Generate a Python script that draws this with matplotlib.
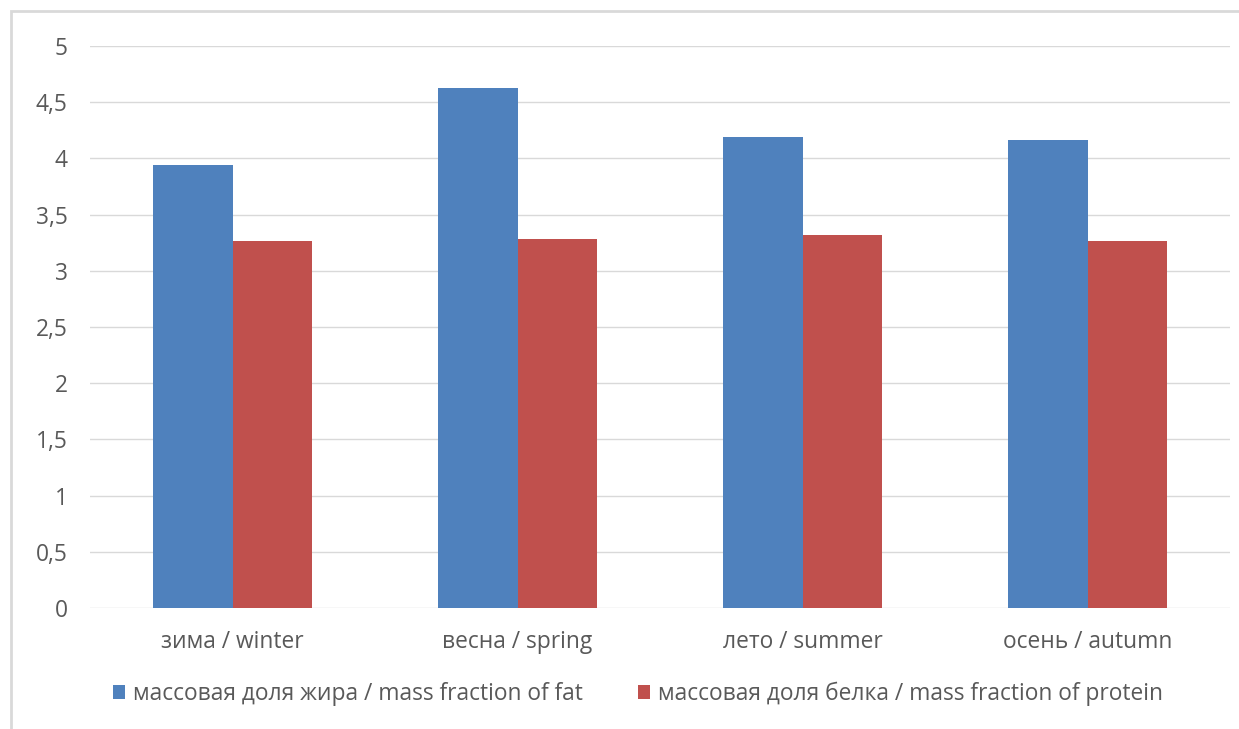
import numpy as np
import matplotlib.pyplot as plt
from matplotlib.patches import Rectangle
from matplotlib.ticker import FuncFormatter

# Seasonal milk composition
seasons = ['зима / winter', 'весна / spring', 'лето / summer', 'осень / autumn']
fat = [3.94, 4.63, 4.19, 4.16]
protein = [3.265, 3.28, 3.32, 3.265]
fat_label = 'массовая доля жира / mass fraction of fat'
protein_label = 'массовая доля белка / mass fraction of protein'
y_ticks = np.arange(0, 5.01, 0.5)

plt.rcParams['font.family'] = ['Open Sans', 'DejaVu Sans']
text_color = '#595959'
fs = 16.4

fig = plt.figure(figsize=(12.39, 7.29), dpi=100)
# light outer chart frame
fig.patches.append(Rectangle((11 / 1239, -0.1), 1.2, 1 - 11 / 729 + 0.1,
                             transform=fig.transFigure, fill=False,
                             edgecolor='#d9d9d9', linewidth=2))

ax = fig.add_axes([90 / 1239, 1 - 608 / 729, 1140 / 1239, 562 / 729])
x = np.arange(len(seasons))
w = 0.28
ax.bar(x - w / 2, fat, w, color='#4f81bd', label=fat_label, zorder=3)
ax.bar(x + w / 2, protein, w, color='#c0504d', label=protein_label, zorder=3)

ax.set_xlim(-0.5, len(seasons) - 0.5)
ax.set_ylim(0, 5)
ax.set_yticks(y_ticks)
ax.yaxis.set_major_formatter(FuncFormatter(lambda v, p: f'{v:g}'.replace('.', ',')))
ax.grid(axis='y', color='#d9d9d9', linewidth=1, zorder=0)
ax.set_xticks(x)
ax.set_xticklabels(seasons)
ax.tick_params(axis='both', length=0, labelsize=fs, colors=text_color)
ax.tick_params(axis='y', pad=16)
ax.tick_params(axis='x', pad=16)
for s in ax.spines.values():
    s.set_visible(False)

fig.legend(loc='center', bbox_to_anchor=(0.515, 1 - 694 / 729), ncol=2,
           frameon=False, fontsize=fs, labelcolor=text_color,
           handlelength=0.55, handleheight=0.55, handletextpad=0.35,
           columnspacing=2.4)

fig.savefig('out.png', dpi=100)
